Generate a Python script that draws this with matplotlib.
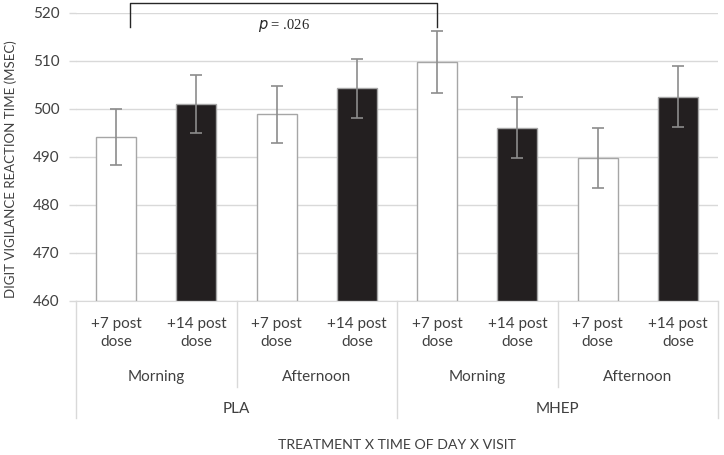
"""Digit vigilance reaction time by treatment x time of day x visit"""
import numpy as np
import matplotlib.pyplot as plt

plt.rcParams['font.family'] = ['Lato', 'DejaVu Sans']

# Data
visits = ['+7 post\ndose', '+14 post\ndose'] * 4
times = ['Morning', 'Afternoon', 'Morning', 'Afternoon']
treatments = ['PLA', 'MHEP']
means = [494.2, 501.0, 498.9, 504.3, 509.8, 496.1, 489.8, 502.6]
errors = [5.9, 6.0, 5.9, 6.1, 6.4, 6.4, 6.2, 6.4]
colors = ['white', '#231f20'] * 4

text_col = '#404040'
fs = 11
fig = plt.figure(figsize=(7.24, 4.55), dpi=100)
ax = fig.add_axes([76 / 724, 154 / 455, 642 / 724, 288 / 455])

x = np.arange(len(means))
ax.bar(x, [m - 460 for m in means], bottom=460, width=0.5, color=colors,
       edgecolor='#a6a6a6', linewidth=1.0, zorder=3)
ax.errorbar(x, means, yerr=errors, fmt='none', ecolor='#8c8c8c',
            elinewidth=1.2, capsize=4, capthick=1.2, zorder=4)

ax.set_xlim(-0.5, len(means) - 0.5)
ax.set_ylim(460, 520)
ax.set_yticks(np.arange(460, 521, 10))
ax.tick_params(axis='y', length=5, width=1.0, color='#d9d9d9', labelsize=fs,
               labelcolor=text_col, pad=7)
ax.set_xticks([])
ax.grid(axis='y', color='#d9d9d9', linewidth=1.0, zorder=0)
for s in ['top', 'right', 'left']:
    ax.spines[s].set_visible(False)
ax.spines['bottom'].set_color('#d9d9d9')

ax.set_ylabel('DIGIT VIGILANCE REACTION TIME (MSEC)', fontsize=9.5,
              color=text_col)
ax.yaxis.set_label_coords(-0.092, 0.458)

# Hierarchical category labels
tr = ax.get_xaxis_transform()
for i, lab in enumerate(visits):
    ax.text(i, -0.11, lab, transform=tr, ha='center', va='center',
            fontsize=fs, color=text_col, linespacing=1.35)
for j, lab in enumerate(times):
    ax.text(2 * j + 0.5, -0.264, lab, transform=tr, ha='center', va='center',
            fontsize=fs, color=text_col)
for k, lab in enumerate(treatments):
    ax.text(4 * k + 1.5, -0.375, lab, transform=tr, ha='center', va='center',
            fontsize=fs, color=text_col)
for xs in [-0.5, 3.5, 7.5]:
    ax.plot([xs, xs], [0, -0.406], transform=tr, color='#d9d9d9',
            linewidth=1.0, clip_on=False)
for xs in [1.5, 5.5]:
    ax.plot([xs, xs], [0, -0.299], transform=tr, color='#d9d9d9',
            linewidth=1.0, clip_on=False)
ax.text(3.5, -0.5, 'TREATMENT X TIME OF DAY X VISIT', transform=tr,
        ha='center', va='center', fontsize=10.2, color=text_col)

# Significance bracket
ax.plot([0.17, 0.17, 4.0, 4.0], [517.1, 522.1, 522.1, 517.1], color='#262626',
        linewidth=1.0, clip_on=False, zorder=5)
ax.text(2.09, 517.3, r'$p$ = .026', fontsize=10.5, ha='center', va='center',
        family='Liberation Serif', color='#262626')

plt.savefig('out.png', dpi=100)
plt.close()
